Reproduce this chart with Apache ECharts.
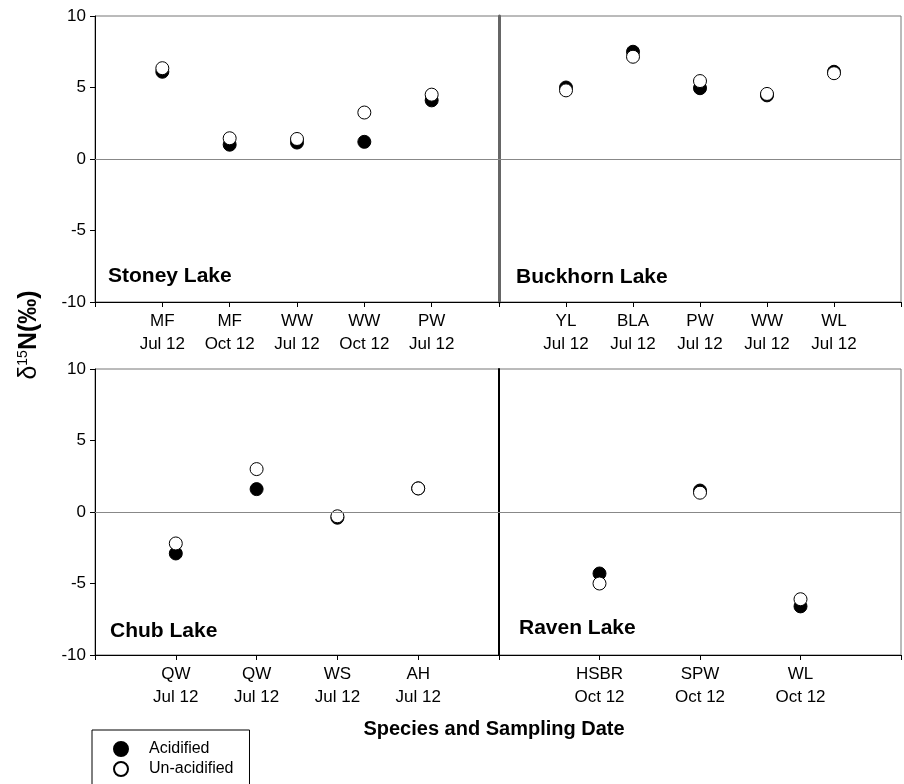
<!DOCTYPE html>
<html>
<head>
<meta charset="utf-8">
<script src="https://cdn.jsdelivr.net/npm/echarts@6/dist/echarts.min.js"></script>
<style>
  html, body { margin: 0; padding: 0; background: #fff; }
  #main { width: 904px; height: 784px; }
</style>
</head>
<body>
<div id="main"></div>
<script>
// panel data (delta 15N, per mille)
const stoneyCats = ["MF\nJul 12", "MF\nOct 12", "WW\nJul 12", "WW\nOct 12", "PW\nJul 12"];
const stoneyAcid = [6.1, 1.0, 1.15, 1.2, 4.1];
const stoneyUnacid = [6.35, 1.45, 1.4, 3.25, 4.5];

const buckhornCats = ["YL\nJul 12", "BLA\nJul 12", "PW\nJul 12", "WW\nJul 12", "WL\nJul 12"];
const buckhornAcid = [5.0, 7.5, 4.95, 4.45, 6.1];
const buckhornUnacid = [4.8, 7.15, 5.45, 4.55, 6.0];

const chubCats = ["QW\nJul 12", "QW\nJul 12", "WS\nJul 12", "AH\nJul 12"];
const chubAcid = [-2.9, 1.6, -0.4, 1.65];
const chubUnacid = [-2.2, 3.0, -0.3, 1.65];

const ravenCats = ["HSBR\nOct 12", "SPW\nOct 12", "WL\nOct 12"];
const ravenAcid = [-4.3, 1.5, -6.6];
const ravenUnacid = [-5.0, 1.35, -6.1];

const panels = [
  { name: "Stoney Lake", cats: stoneyCats, acid: stoneyAcid, unacid: stoneyUnacid,
    grid: { left: 95, top: 16, width: 404, height: 286 }, labelPos: [108, 278], side: "left", sep: null },
  { name: "Buckhorn Lake", cats: buckhornCats, acid: buckhornAcid, unacid: buckhornUnacid,
    grid: { left: 499, top: 16, width: 404, height: 286 }, labelPos: [516, 279], side: "right", sep: { color: "#666", width: 3 } },
  { name: "Chub Lake", cats: chubCats, acid: chubAcid, unacid: chubUnacid,
    grid: { left: 95, top: 369, width: 404, height: 286 }, labelPos: [110, 633], side: "left", sep: null },
  { name: "Raven Lake", cats: ravenCats, acid: ravenAcid, unacid: ravenUnacid,
    grid: { left: 499, top: 369, width: 404, height: 286 }, labelPos: [519, 630], side: "right", sep: { color: "#000", width: 2 } }
];

const grids = [], xAxes = [], yAxes = [], series = [], graphics = [];

panels.forEach((p, i) => {
  grids.push(Object.assign({ show: true, borderColor: "#777", borderWidth: 1 }, p.grid));
  xAxes.push({
    type: "value", gridIndex: i, min: 0, max: p.cats.length + 1, interval: 1,
    splitLine: { show: false },
    axisLine: { show: true, onZero: false, lineStyle: { color: "#000", width: 1 } },
    axisTick: { show: true, length: 5, lineStyle: { color: "#000" } },
    axisLabel: {
      show: true, color: "#000", fontSize: 17, lineHeight: 23, margin: 8,
      formatter: (v) => p.cats[v - 1] || ""
    }
  });
  const left = p.side === "left";
  yAxes.push({
    type: "value", gridIndex: i, min: -10, max: 10, interval: 5,
    splitLine: { show: false },
    axisLine: { show: true, lineStyle: left ? { color: "#000", width: 1 } : p.sep },
    axisTick: { show: left, length: 5, lineStyle: { color: "#000" } },
    axisLabel: { show: left, color: "#000", fontSize: 17, margin: 9 }
  });
  series.push({
    name: "Acidified", type: "scatter", xAxisIndex: i, yAxisIndex: i,
    symbol: "circle", symbolSize: 13,
    itemStyle: { color: "#000", borderColor: "#000", borderWidth: 1, opacity: 1 },
    data: p.acid.map((v, k) => [k + 1, v]),
    markLine: {
      silent: true, symbol: "none", label: { show: false },
      lineStyle: { color: "#888", width: 1, type: "solid" },
      data: [{ yAxis: 0 }]
    },
    z: 3
  });
  series.push({
    name: "Un-acidified", type: "scatter", xAxisIndex: i, yAxisIndex: i,
    symbol: "circle", symbolSize: 13,
    itemStyle: { color: "#fff", borderColor: "#000", borderWidth: 1, opacity: 1 },
    data: p.unacid.map((v, k) => [k + 1, v]),
    z: 4
  });
  graphics.push({
    type: "text", left: p.labelPos[0], top: p.labelPos[1] - 12,
    style: { text: p.name, fontSize: 21, fontWeight: "bold", fill: "#000", fontFamily: "Liberation Sans" }
  });
});

graphics.push({
  type: "text", x: 494, y: 729,
  style: { text: "Species and Sampling Date", fontSize: 20, fontWeight: "bold", fill: "#000",
           fontFamily: "Liberation Sans", align: "center", verticalAlign: "middle" }
});
graphics.push({
  type: "text", x: 29, y: 335, rotation: Math.PI / 2,
  style: {
    text: "{a|δ}{b|15}{c|N(‰)}", align: "center", verticalAlign: "middle",
    fontFamily: "Liberation Sans", fill: "#000",
    rich: {
      a: { fontSize: 25, fontFamily: "Liberation Sans", fill: "#000" },
      b: { fontSize: 14, fontFamily: "Liberation Sans", fill: "#000", verticalAlign: "top" },
      c: { fontSize: 25, fontWeight: "bold", fontFamily: "Liberation Sans", fill: "#000" }
    }
  }
});

const chart = echarts.init(document.getElementById("main"));
chart.setOption({
  animation: false,
  backgroundColor: "#fff",
  textStyle: { fontFamily: "Liberation Sans" },
  grid: grids,
  xAxis: xAxes,
  yAxis: yAxes,
  legend: {
    data: ["Acidified", "Un-acidified"],
    orient: "vertical", left: 92, top: 730, height: 120,
    itemWidth: 14, itemHeight: 14, itemGap: 4,
    padding: [11, 16, 40, 21],
    borderColor: "#000", borderWidth: 1,
    textStyle: { fontSize: 16, color: "#000", padding: [0, 0, 0, 16] }
  },
  graphic: graphics,
  series: series
});
</script>
</body>
</html>
